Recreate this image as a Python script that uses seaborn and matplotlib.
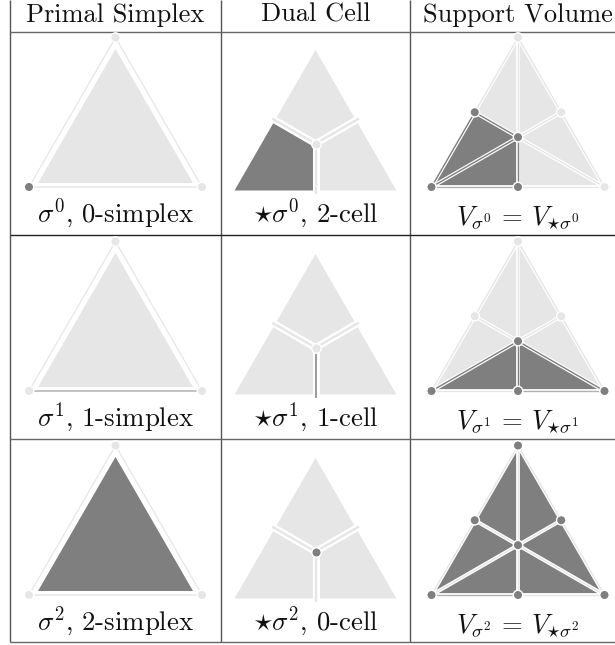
"""Primal simplices, dual cells and support volumes on a triangle."""

import matplotlib

matplotlib.use("Agg")

import matplotlib.pyplot as plt
import numpy as np
import pandas as pd
import seaborn as sns

HEADERS = ["Primal Simplex", "Dual Cell", "Support Volume"]
PRIMAL_LABELS = [r"$\sigma^0$, 0-simplex", r"$\sigma^1$, 1-simplex", r"$\sigma^2$, 2-simplex"]
DUAL_LABELS = [r"$\star\sigma^0$, 2-cell", r"$\star\sigma^1$, 1-cell", r"$\star\sigma^2$, 0-cell"]
VOLUME_LABELS = [
    r"$V_{\sigma^0}\/=\/V_{\star\sigma^0}$",
    r"$V_{\sigma^1}\/=\/V_{\star\sigma^1}$",
    r"$V_{\sigma^2}\/=\/V_{\star\sigma^2}$",
]

# states: 0 light, 1 dark, 2 medium
# primal: corners L, R, T / bottom edge / inner fill
PRIMAL_CORNERS = [[1, 0, 0], [0, 0, 0], [0, 0, 0]]
PRIMAL_BOTTOM = [0, 2, 0]
PRIMAL_FILL = [0, 0, 1]
# dual: cell next to L, R, T / bottom leg / centre dot
DUAL_CELLS = [[1, 0, 0], [0, 0, 0], [0, 0, 0]]
DUAL_BOTTOM_LEG = [0, 1, 0]
DUAL_CENTRE = [0, 0, 1]
# support: wedges T-MR, MR-R, R-MB, MB-L, L-ML, ML-T
SUPPORT_WEDGES = [[0, 0, 0, 1, 1, 0], [0, 0, 1, 1, 0, 0], [1, 1, 1, 1, 1, 1]]
# spokes from C to T, MR, R, MB, L, ML
SUPPORT_SPOKES = [[0, 0, 0, 1, 1, 1], [0, 0, 1, 1, 1, 0], [0, 0, 0, 0, 0, 0]]
# rim pieces matching the wedges
SUPPORT_RIM = [[0, 0, 0, 2, 1, 0], [0, 0, 2, 0, 0, 0], [0, 0, 0, 2, 0, 0]]
# dots at T, MR, R, MB, L, ML, C
SUPPORT_DOTS = [[0, 0, 0, 1, 1, 1, 1], [0, 0, 1, 1, 1, 0, 1], [1, 1, 1, 1, 1, 1, 1]]

COLORS = {0: "#e6e6e6", 1: "#7f7f7f", 2: "#b0b0b0"}
TEXT = "#111111"

COL_X = [115.5, 315.5, 518.0]
ROW_BASE = [187.0, 391.0, 595.0]
LABEL_DROP = [27, 27, 31]
HALF = 86.5
TALL = 149.5
PX = 0.72

# unit triangle, perimeter order T, MR, R, MB, L, ML
RIM = np.array([[0, 1], [0.5, 0.5], [1, 0], [0, 0], [-1, 0], [-0.5, 0.5]], dtype=float)
MID = np.array([0, 1 / 3])


def to_px(pts, cx, base, half=HALF, tall=TALL):
    pts = np.atleast_2d(pts)
    return np.column_stack([cx + pts[:, 0] * half, base - pts[:, 1] * tall])


def fill(ax, pts, state):
    ax.fill(pts[:, 0], pts[:, 1], color=COLORS[state], linewidth=0, zorder=1)


def strip(ax, a, b, state, white=3.8, width=1.4):
    xs, ys = [a[0], b[0]], [a[1], b[1]]
    ax.plot(xs, ys, color="white", lw=white * PX, solid_capstyle="butt", zorder=2)
    ax.plot(xs, ys, color=COLORS[state], lw=width * PX, solid_capstyle="butt", zorder=3)


def dots(ax, pts, states):
    df = pd.DataFrame({"x": pts[:, 0], "y": pts[:, 1], "state": states})
    sns.scatterplot(
        data=df, x="x", y="y", hue="state", palette=COLORS, s=46, linewidth=1.4 * PX,
        edgecolor="white", legend=False, zorder=4, clip_on=False, ax=ax,
    )


def draw_primal(ax, row):
    cx, base = COL_X[0], ROW_BASE[row]
    inner = to_px(RIM[[0, 2, 4]], cx, base - 4, half=77.5, tall=134)
    fill(ax, inner, PRIMAL_FILL[row])
    t, r, l = to_px(RIM[[0, 2, 4]], cx, base)
    strip(ax, l, t, 0, white=0.1, width=1.2)
    strip(ax, r, t, 0, white=0.1, width=1.2)
    strip(ax, l, r, PRIMAL_BOTTOM[row], white=0.1, width=1.5)
    dots(ax, np.array([l, r, t]), PRIMAL_CORNERS[row])


def draw_dual(ax, row):
    cx, base = COL_X[1], ROW_BASE[row] + 3.5
    half, tall = 81, 140.5
    p = to_px(RIM, cx, base, half, tall)
    c = to_px(MID, cx, base, half, tall)[0]
    t, mr, r, mb, l, ml = p
    for cell, state in zip([[l, mb, c, ml], [r, mb, c, mr], [t, mr, c, ml]], DUAL_CELLS[row]):
        fill(ax, np.array(cell), state)
    for end, state in zip([ml, mr, mb], [0, 0, DUAL_BOTTOM_LEG[row]]):
        tip = c + (end - c) * 1.07
        strip(ax, c, tip, state, white=7, width=1.5 if state else 2.4)
    dots(ax, np.array([c]), [DUAL_CENTRE[row]])


def draw_support(ax, row):
    cx, base = COL_X[2], ROW_BASE[row]
    p = to_px(RIM, cx, base)
    c = to_px(MID, cx, base)[0]
    for i in range(6):
        fill(ax, np.array([p[i], p[(i + 1) % 6], c]), SUPPORT_WEDGES[row][i])
    for i in range(6):
        strip(ax, p[i], p[(i + 1) % 6], SUPPORT_RIM[row][i])
    for i in range(6):
        strip(ax, c, p[i], SUPPORT_SPOKES[row][i])
    dots(ax, np.vstack([p, c]), SUPPORT_DOTS[row])


def main():
    sns.set_theme(style="white")
    plt.rcParams["mathtext.fontset"] = "cm"
    plt.rcParams["font.family"] = ["cmr10", "DejaVu Sans"]
    plt.rcParams["axes.unicode_minus"] = False

    fig = plt.figure(figsize=(6.15, 6.45), dpi=100)
    ax = fig.add_axes([0, 0, 1, 1])
    ax.set_xlim(0, 615)
    ax.set_ylim(645, 0)
    ax.axis("off")

    ax.vlines([10, 221, 410], 0, 642, color="#555555", lw=1.4 * PX)
    ax.hlines([32, 235, 439, 642], 10, 615, color=["#666666", "#222222", "#666666", "#666666"], lw=1.4 * PX)

    for col, header in zip(COL_X, HEADERS):
        ax.text(col, 15, header, ha="center", va="center", fontsize=19, color=TEXT)
    for row in range(3):
        draw_primal(ax, row)
        draw_dual(ax, row)
        draw_support(ax, row)
        for col, labels, drop in zip(COL_X, [PRIMAL_LABELS, DUAL_LABELS, VOLUME_LABELS], LABEL_DROP):
            ax.text(col, ROW_BASE[row] + drop, labels[row], ha="center", va="center", fontsize=19.3, color=TEXT)
    ax.set_xlabel("")
    ax.set_ylabel("")
    fig.savefig("out.png", dpi=100)
    plt.close(fig)


if __name__ == "__main__":
    main()
